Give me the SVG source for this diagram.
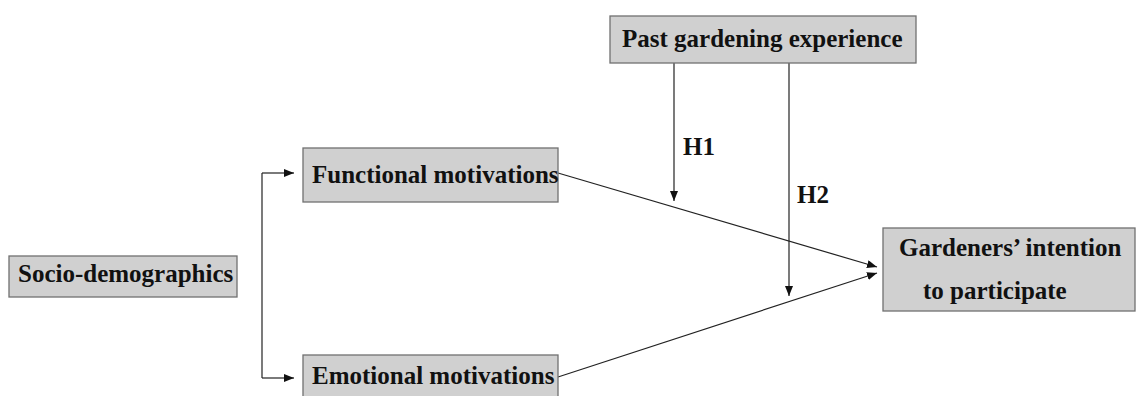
<svg xmlns="http://www.w3.org/2000/svg" width="1136" height="396" viewBox="0 0 1136 396">
  <style>
    .box { fill: #d0d0d0; stroke: #707070; stroke-width: 1.3; }
    .conn { fill: none; stroke: #222; stroke-width: 1.2; }
  </style>
  <defs>
    <marker id="arr" markerUnits="userSpaceOnUse" markerWidth="12" markerHeight="10" refX="10" refY="4" orient="auto">
      <path d="M0,0 L10,4 L0,8 Z" fill="#111"/>
    </marker>
  </defs>
  <rect x="0" y="0" width="1136" height="396" fill="#ffffff"/>

  <g font-family="Liberation Serif" font-weight="bold" font-size="25" fill="#111">
  <g id="connectors">
    <path class="conn" d="M262,173 L262,378"/>
    <path class="conn" d="M262,173 L294,173" marker-end="url(#arr)"/>
    <path class="conn" d="M262,378 L294,378" marker-end="url(#arr)"/>
    <path class="conn" d="M674,63 L674,201" marker-end="url(#arr)"/>
    <path class="conn" d="M789,63 L789,296" marker-end="url(#arr)"/>
    <path class="conn" d="M558,173 L877,267" marker-end="url(#arr)"/>
    <path class="conn" d="M558,377 L877,273" marker-end="url(#arr)"/>
    <text x="683" y="155">H1</text>
    <text x="797" y="203">H2</text>
  </g>

  <g id="past">
    <rect class="box" x="610" y="16" width="306" height="47"/>
    <text x="622" y="47">Past gardening experience</text>
  </g>

  <g id="socio">
    <rect class="box" x="9" y="256" width="228" height="41"/>
    <text x="18" y="282">Socio-demographics</text>
  </g>

  <g id="functional">
    <rect class="box" x="303" y="148" width="255" height="54"/>
    <text x="312" y="183">Functional motivations</text>
  </g>

  <g id="emotional">
    <rect class="box" x="303" y="355" width="255" height="60"/>
    <text x="312" y="384">Emotional motivations</text>
  </g>

  <g id="intention">
    <rect class="box" x="883" y="228" width="252" height="83"/>
    <text x="899" y="256">Gardeners’ intention</text>
    <text x="923" y="299">to participate</text>
  </g>
  </g>
</svg>
